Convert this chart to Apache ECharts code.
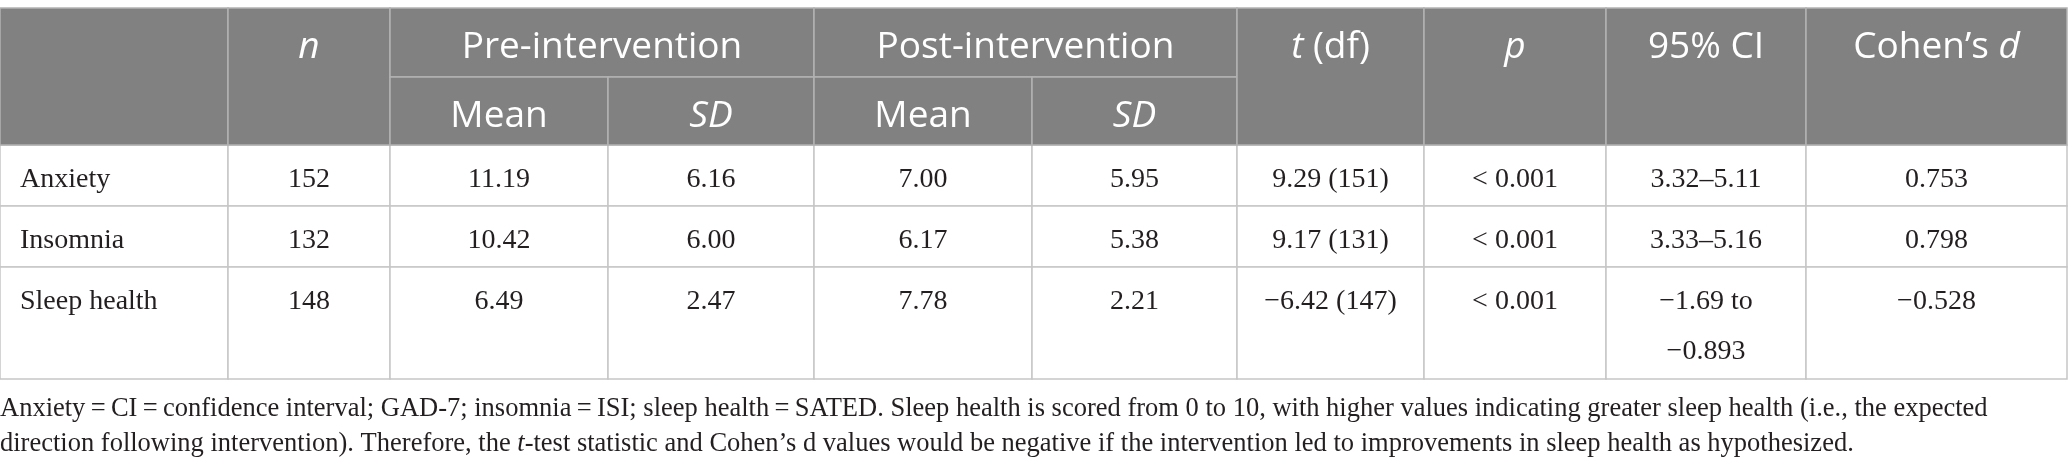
<!DOCTYPE html>
<html>
<head>
<meta charset="utf-8">
<script src="https://cdn.jsdelivr.net/npm/echarts@6/dist/echarts.min.js"></script>
<style>
  html, body { margin: 0; padding: 0; background: #fff; }
  #main { width: 2068px; height: 474px; }
</style>
</head>
<body>
<div id="main"></div>
<script>
// 表格数据
var rowLabels = ['Anxiety', 'Insomnia', 'Sleep health'];
var nValues = [152, 132, 148];
var preMean = [11.19, 10.42, 6.49];
var preSD = [6.16, 6.00, 2.47];
var postMean = [7.00, 6.17, 7.78];
var postSD = [5.95, 5.38, 2.21];
var tValues = [9.29, 9.17, -6.42];
var dfValues = [151, 131, 147];
var pValues = ['< 0.001', '< 0.001', '< 0.001'];
var ciLow = [3.32, 3.33, -1.69];
var ciHigh = [5.11, 5.16, -0.893];
var cohenD = [0.753, 0.798, -0.528];

var footnoteLines = [
    'Anxiety\u2009=\u2009CI\u2009=\u2009confidence interval; GAD-7; insomnia\u2009=\u2009ISI; sleep health\u2009=\u2009SATED. Sleep health is scored from 0 to 10, with higher values indicating greater sleep health (i.e., the expected',
    'direction following intervention). Therefore, the {it|t}-test statistic and Cohen\u2019s d values would be negative if the intervention led to improvements in sleep health as hypothesized.'
];

// 版式（像素）
var colEdges = [0, 228, 390, 608, 814, 1032, 1237, 1424, 1606, 1806, 2067];
var rowEdges = [8, 77, 145, 206, 267, 379];

var HEAD_FONT = '"Open Sans", "Noto Sans", sans-serif';
var BODY_FONT = '"Liberation Serif", "DejaVu Serif", serif';

function num(v, d) {
    var s = Math.abs(v).toFixed(d);
    return (v < 0 ? '\u2212' : '') + s;
}

// 单元格: [c0, c1, r0, r1, text, kind, align]
var cells = [];
// 表头
cells.push([0, 1, 0, 2, '', 'head', 'center']);
cells.push([1, 2, 0, 2, '{i|n}', 'head', 'center']);
cells.push([2, 4, 0, 1, 'Pre-intervention', 'head', 'center']);
cells.push([4, 6, 0, 1, 'Post-intervention', 'head', 'center']);
cells.push([2, 3, 1, 2, 'Mean', 'head', 'center']);
cells.push([3, 4, 1, 2, '{i|SD}', 'head', 'center']);
cells.push([4, 5, 1, 2, 'Mean', 'head', 'center']);
cells.push([5, 6, 1, 2, '{i|SD}', 'head', 'center']);
cells.push([6, 7, 0, 2, '{i|t} (df)', 'head', 'center']);
cells.push([7, 8, 0, 2, '{i|p}', 'head', 'center']);
cells.push([8, 9, 0, 2, '95% CI', 'head', 'center']);
cells.push([9, 10, 0, 2, 'Cohen\u2019s {i|d}', 'head', 'center']);
// 数据行
rowLabels.forEach(function (label, i) {
    var r = i + 2;
    var ci = ciLow[i] < 0
        ? num(ciLow[i], 2) + ' to\n' + num(ciHigh[i], 3)
        : num(ciLow[i], 2) + '\u2013' + num(ciHigh[i], 2);
    var vals = [
        label,
        String(nValues[i]),
        num(preMean[i], 2),
        num(preSD[i], 2),
        num(postMean[i], 2),
        num(postSD[i], 2),
        num(tValues[i], 2) + ' (' + dfValues[i] + ')',
        pValues[i],
        ci,
        num(cohenD[i], 3)
    ];
    vals.forEach(function (txt, c) {
        cells.push([c, c + 1, r, r + 1, txt, 'body', c === 0 ? 'left' : 'center']);
    });
});

var myChart = echarts.init(document.getElementById('main'));

var option = {
    animation: false,
    grid: { left: 0, right: 0, top: 0, bottom: 0 },
    xAxis: { type: 'value', min: 0, max: 2068, show: false },
    yAxis: { type: 'value', min: 0, max: 474, inverse: true, show: false },
    series: [{
        type: 'custom',
        coordinateSystem: 'cartesian2d',
        data: cells.map(function (c, idx) {
            return [colEdges[c[0]], rowEdges[c[2]], colEdges[c[1]], rowEdges[c[3]], idx];
        }),
        renderItem: function (params, api) {
            var cell = cells[api.value(4)];
            var p0 = api.coord([api.value(0), api.value(1)]);
            var p1 = api.coord([api.value(2), api.value(3)]);
            var isHead = cell[5] === 'head';
            var tx = cell[6] === 'left' ? p0[0] + 20 : (p0[0] + p1[0]) / 2;
            var children = [{
                type: 'rect',
                shape: { x: p0[0], y: p0[1], width: p1[0] - p0[0], height: p1[1] - p0[1] },
                style: {
                    fill: isHead ? '#808180' : '#ffffff',
                    stroke: isHead ? '#b2b2b2' : '#c6c6c6',
                    lineWidth: 1.5
                },
                z2: isHead ? 2 : 1
            }];
            if (cell[4]) {
                children.push({
                    type: 'text',
                    z2: 5,
                    style: isHead ? {
                        text: cell[4],
                        x: tx,
                        y: p0[1] + 39,
                        align: 'center',
                        verticalAlign: 'middle',
                        fontFamily: HEAD_FONT,
                        fontSize: 37,
                        fill: '#ffffff',
                        rich: {
                            i: { fontFamily: HEAD_FONT, fontSize: 37, fontStyle: 'italic', fill: '#ffffff' }
                        }
                    } : {
                        text: cell[4],
                        x: tx,
                        y: p0[1] + 10,
                        align: cell[6],
                        verticalAlign: 'top',
                        lineHeight: 50,
                        fontFamily: BODY_FONT,
                        fontSize: 28,
                        fill: '#231f20'
                    }
                });
            }
            return { type: 'group', children: children };
        }
    }],
    graphic: [{
        type: 'text',
        left: 0,
        top: 392,
        style: {
            text: footnoteLines.join('\n'),
            fontFamily: BODY_FONT,
            fontSize: 26.5,
            lineHeight: 35,
            fill: '#231f20',
            rich: {
                it: { fontFamily: BODY_FONT, fontSize: 26.5, lineHeight: 35, fontStyle: 'italic', fill: '#231f20' }
            }
        }
    }]
};

myChart.setOption(option);
</script>
</body>
</html>
